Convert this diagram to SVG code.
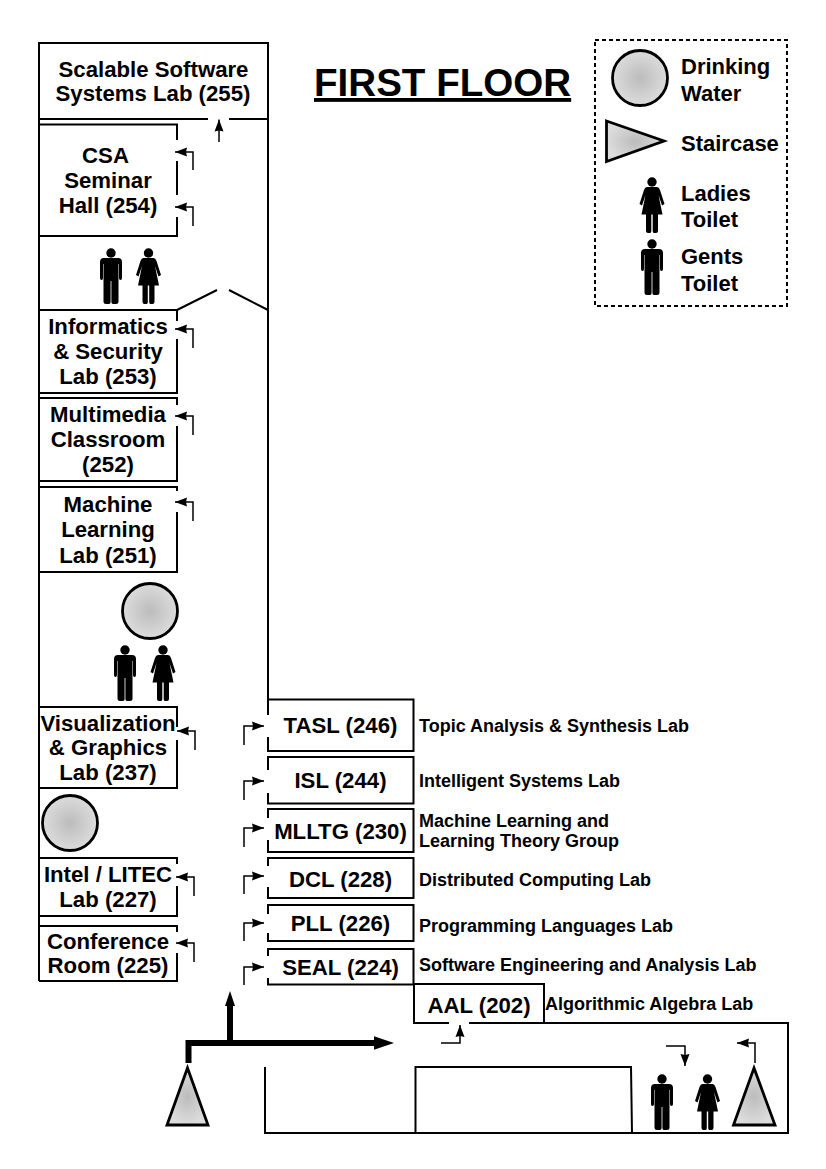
<svg xmlns="http://www.w3.org/2000/svg" width="826" height="1169" viewBox="0 0 826 1169">
<style>
text{font-family:"Liberation Sans",Arial,sans-serif;font-weight:700;fill:#000}
.r{font-size:22.2px;text-anchor:middle}
.l{font-size:18px}
.g{font-size:22px}
.w{fill:none;stroke:#000;stroke-width:2}
.c{fill:none;stroke:#000;stroke-width:1.500;marker-end:url(#ah)}
.t{fill:none;stroke:#000;stroke-width:6}
.s{fill:url(#grad);stroke:#000;stroke-width:2.800}
</style>
<defs>
<radialGradient id="grad"><stop offset="0" stop-color="#bcbcbc"/><stop offset="1" stop-color="#dcdcdc"/></radialGradient>
<marker id="ah" markerUnits="userSpaceOnUse" markerWidth="12" markerHeight="10" refX="12" refY="5" orient="auto"><path d="M0 .5L12 5L0 9.500L1 5Z"/></marker>
<symbol id="man" overflow="visible"><circle cx="0" cy="5" r="4.700"/><path d="M-7 10H7Q11 10 11 14V30Q11 32 9.500 32T8 30V16H7.500V54Q7.500 56 5 56H2Q.4 56 .4 54V33H-.4V54Q-.4 56-2 56H-5Q-7.500 56-7.500 54V16H-8V30Q-8 32-9.500 32T-11 30V14Q-11 10-7 10Z"/></symbol>
<symbol id="woman" overflow="visible"><circle cx="0" cy="5" r="4.700"/><path d="M-5 10H5Q7 10 8 13L12.500 27L10 28.500L6.500 18L10.500 37.500H6V54Q6 56 4 56H2Q.7 56 .7 54V37.500H-.7V54Q-.7 56-2 56H-4Q-6 56-6 54V37.500H-10.500L-6.500 18L-10 28.500L-12.500 27L-8 13Q-7 10-5 10Z"/></symbol>
</defs>
<rect width="826" height="1169" fill="#fff"/>

<g id="building">
<path class="w" d="M268 699V43H39V981"/>
<path class="w" d="M39 119H208M229 119H268"/>
<path class="w" d="M177 310L217 290M229 290L268 310"/>
<path class="w" d="M415.500 1133V1067H631L632 1133"/>
<path class="w" d="M544 1023H788V1133H265V1067"/>
</g>

<g id="room-255"><text class="r" x="153.500" y="76.500">Scalable Software</text><text class="r" x="153" y="101">Systems Lab (255)</text></g>
<g id="room-254"><path class="w" d="M39 124.500H177V140M177 161V195M177 217V236H39"/><text class="r" x="105.500" y="163">CSA</text><text class="r" x="108" y="188">Seminar</text><text class="r" x="108" y="213">Hall (254)</text></g>
<g id="room-253"><path class="w" d="M177 321V310H39M177 339V393H39"/><text class="r" x="108" y="334">Informatics</text><text class="r" x="108" y="359">&amp; Security</text><text class="r" x="108" y="384">Lab (253)</text></g>
<g id="room-252"><path class="w" d="M177 405V398H39M177 426V481H39"/><text class="r" x="108" y="422">Multimedia</text><text class="r" x="108" y="447">Classroom</text><text class="r" x="108" y="472">(252)</text></g>
<g id="room-251"><path class="w" d="M177 491V487H39M177 512V572H39"/><text class="r" x="108" y="512">Machine</text><text class="r" x="108" y="537">Learning</text><text class="r" x="108" y="562.500">Lab (251)</text></g>
<g id="room-237"><path class="w" d="M177 727V707H39M177 740V788H39"/><text class="r" x="108" y="731">Visualization</text><text class="r" x="108" y="755">&amp; Graphics</text><text class="r" x="108" y="780">Lab (237)</text></g>
<g id="room-227"><path class="w" d="M177 864V858H39M177 886V916H39"/><text class="r" x="108" y="882">Intel / LITEC</text><text class="r" x="108" y="907">Lab (227)</text></g>
<g id="room-225"><path class="w" d="M177 932V926H39M177 953V981H39"/><text class="r" x="108" y="949">Conference</text><text class="r" x="108" y="973">Room (225)</text></g>

<g id="room-246"><path class="w" d="M268 715V699.500H413.500V751H268V737"/><text class="r" x="340.500" y="733">TASL (246)</text><text class="l" x="419" y="732">Topic Analysis &amp; Synthesis Lab</text></g>
<g id="room-244"><path class="w" d="M268 770V757H413.500V803.500H268V793"/><text class="r" x="340.500" y="788">ISL (244)</text><text class="l" x="419" y="787">Intelligent Systems Lab</text></g>
<g id="room-230"><path class="w" d="M268 818V809H413.500V852H268V840"/><text class="r" x="340.500" y="839">MLLTG (230)</text><text class="l" x="419" y="827">Machine Learning and</text><text class="l" x="419" y="847">Learning Theory Group</text></g>
<g id="room-228"><path class="w" d="M268 866V858H413.500V898H268V887"/><text class="r" x="340.500" y="887">DCL (228)</text><text class="l" x="419" y="886">Distributed Computing Lab</text></g>
<g id="room-226"><path class="w" d="M268 914V905H413.500V941H268V933"/><text class="r" x="340.500" y="931">PLL (226)</text><text class="l" x="419" y="932">Programming Languages Lab</text></g>
<g id="room-224"><path class="w" d="M268 956V949H413.500V984.500H268V978"/><text class="r" x="340.500" y="975">SEAL (224)</text><text class="l" x="419" y="971">Software Engineering and Analysis Lab</text></g>
<g id="room-202"><path class="w" d="M449 1023H414V984H544V1023H469"/><text class="r" x="479" y="1013">AAL (202)</text><text class="l" x="545" y="1010">Algorithmic Algebra Lab</text></g>

<g id="connectors">
<path class="c" d="M219 142V119.500"/>
<path class="c" d="M193 170V152H175"/>
<path class="c" d="M193 226V207H175"/>
<path class="c" d="M193 348V329H175"/>
<path class="c" d="M193 435V416H175"/>
<path class="c" d="M193 521V502H175"/>
<path class="c" d="M195 750V731H177"/>
<path class="c" d="M194 896V877H176"/>
<path class="c" d="M194 962V943H176"/>
<path class="c" d="M244 745V726H264"/>
<path class="c" d="M244 800V781H264"/>
<path class="c" d="M244 847V828H264"/>
<path class="c" d="M244 894V876H264"/>
<path class="c" d="M244 941V923H264"/>
<path class="c" d="M244 985V967H264"/>
<path class="c" d="M441 1043H460V1025"/>
<path class="c" d="M666 1046H685V1066"/>
<path class="c" d="M755 1063V1043H737"/>
<path class="t" d="M188.500 1063V1043H376"/>
<path d="M374 1036.300L394 1043L374 1049.700Z"/>
<path class="t" d="M230 1043V1004"/>
<path d="M225 1006L230 991L235 1006Z"/>
</g>

<g id="title"><text x="314" y="96" font-size="38.600" text-decoration="underline">FIRST FLOOR</text></g>

<g id="water-1"><circle class="s" cx="150" cy="611" r="27.500"/></g>
<g id="water-2"><circle class="s" cx="70" cy="823" r="27.500"/></g>
<g id="stairs-1"><path class="s" d="M187.500 1068L208 1125H167Z"/></g>
<g id="stairs-2"><path class="s" d="M754 1068L775 1125H733.500Z"/></g>
<g id="toilets-1"><use href="#man" x="111" y="248"/><use href="#woman" x="148.500" y="248"/></g>
<g id="toilets-2"><use href="#man" x="125" y="645"/><use href="#woman" x="163" y="645"/></g>
<g id="toilets-3"><use href="#man" x="662" y="1074"/><use href="#woman" x="707.500" y="1074"/></g>

<g id="legend">
<rect x="595" y="40" width="192" height="266" fill="none" stroke="#000" stroke-width="2" stroke-dasharray="4 3"/>
<circle class="s" cx="640" cy="78" r="27.500"/>
<path class="s" d="M606.500 121L664 141L606.500 161.500Z"/>
<use href="#woman" x="652" y="177"/>
<use href="#man" x="652" y="239"/>
<text class="g" x="681" y="74">Drinking</text>
<text class="g" x="681" y="101">Water</text>
<text class="g" x="681" y="151">Staircase</text>
<text class="g" x="681" y="201">Ladies</text>
<text class="g" x="681" y="227">Toilet</text>
<text class="g" x="681" y="264">Gents</text>
<text class="g" x="681" y="291">Toilet</text>
</g>
</svg>
